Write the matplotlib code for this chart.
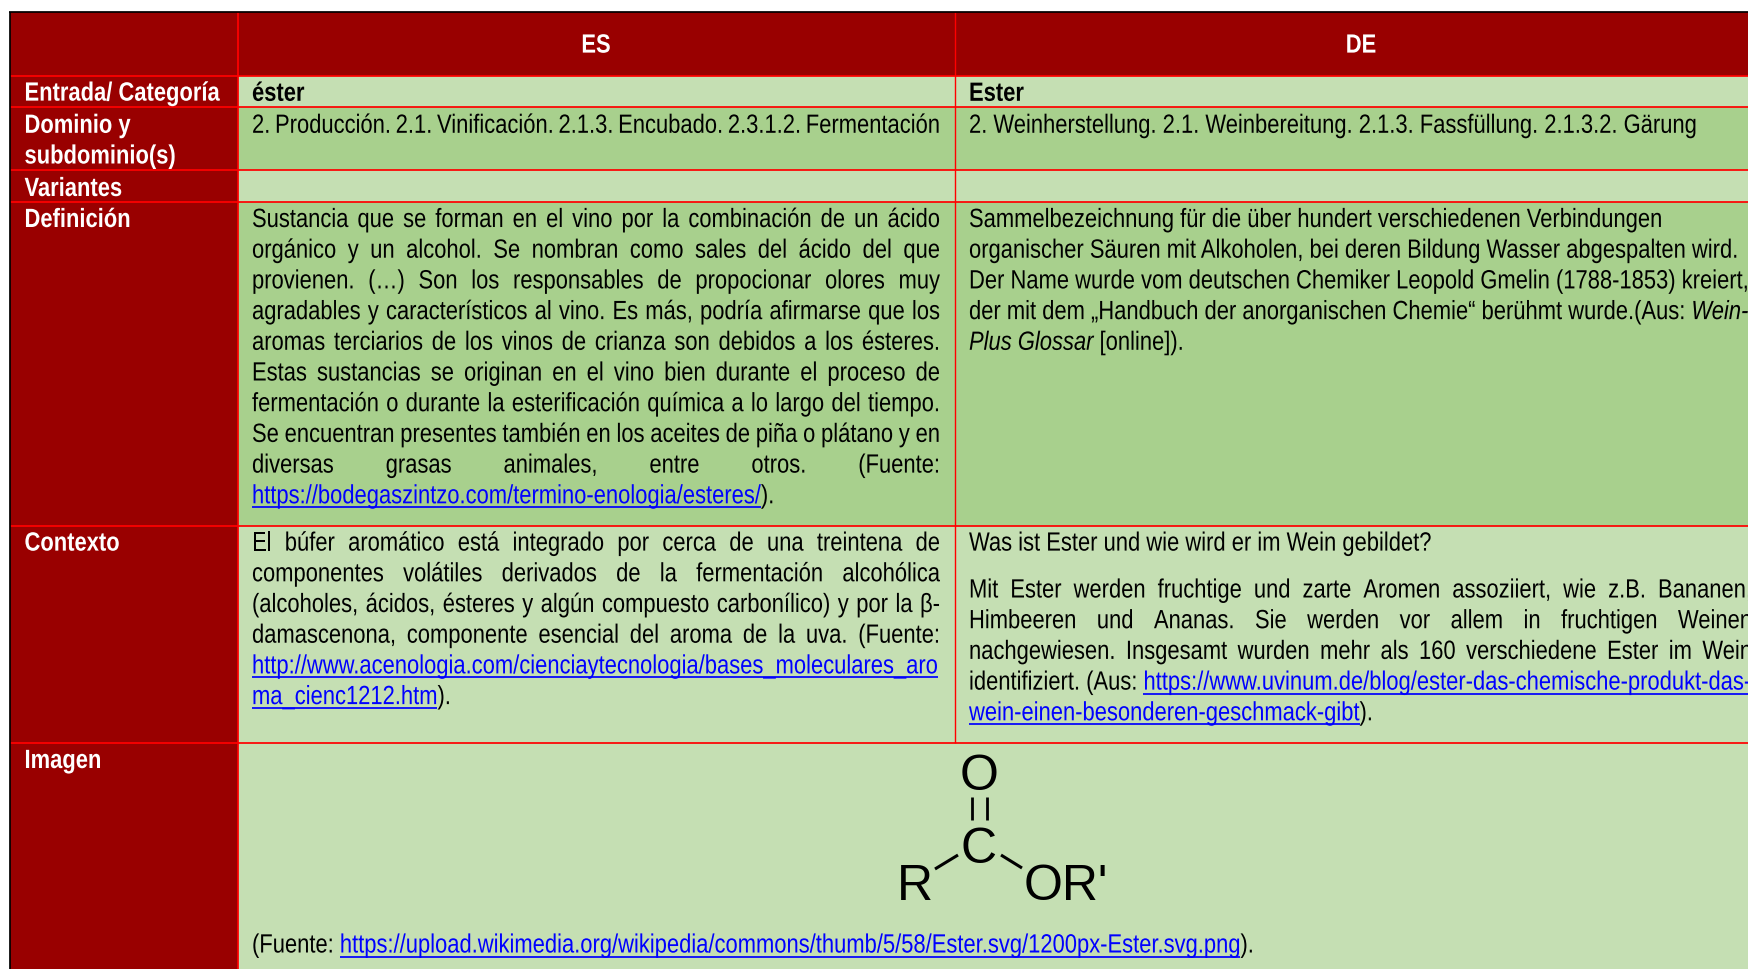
import matplotlib
matplotlib.use("Agg")
import matplotlib.pyplot as plt
from matplotlib.font_manager import FontProperties
from matplotlib.patheffects import AbstractPathEffect
from matplotlib.text import Text
from matplotlib.textpath import text_to_path
from matplotlib.transforms import Affine2D, Bbox

# ===== colours =====
dark_red = "#990000"
line_red = "#ff0000"
light_green = "#c5dfb3"
mid_green = "#a8d08d"
link_blue = "#0000ff"

# ===== table contents =====
col_heads = ["ES", "DE"]
row_names = [["Entrada/ Categoría"], ["Dominio y", "subdominio(s)"], ["Variantes"], ["Definición"], ["Contexto"], ["Imagen"]]

# run styles: n normal, b bold, i italic, u link
es_entry = [("éster", "b")]
de_entry = [("Ester", "b")]
es_domain = "2. Producción. 2.1. Vinificación. 2.1.3. Encubado. 2.3.1.2. Fermentación"
de_domain = [("2. Weinherstellung. 2.1. Weinbereitung. 2.1.3. Fassfüllung. 2.1.3.2. Gärung", "n")]

es_def = [
    "Sustancia que se forman en el vino por la combinación de un ácido",
    "orgánico y un alcohol. Se nombran como sales del ácido del que",
    "provienen. (…) Son los responsables de propocionar olores muy",
    "agradables y característicos al vino. Es más, podría afirmarse que los",
    "aromas terciarios de los vinos de crianza son debidos a los ésteres.",
    "Estas sustancias se originan en el vino bien durante el proceso de",
    "fermentación o durante la esterificación química a lo largo del tiempo.",
    "Se encuentran presentes también en los aceites de piña o plátano y en",
    "diversas grasas animales, entre otros. (Fuente:",
]
es_def_last = [("https://bodegaszintzo.com/termino-enologia/esteres/", "u"), (").", "n")]

de_def = [
    "Sammelbezeichnung für die über hundert verschiedenen Verbindungen",
    "organischer Säuren mit Alkoholen, bei deren Bildung Wasser abgespalten wird.",
    "Der Name wurde vom deutschen Chemiker Leopold Gmelin (1788-1853) kreiert,",
]
de_def_4 = [("der mit dem „Handbuch der anorganischen Chemie“ berühmt wurde.(Aus: ", "n"), ("Wein-", "i")]
de_def_5 = [("Plus Glossar", "i"), (" [online]).", "n")]

es_ctx = [
    "El búfer aromático está integrado por cerca de una treintena de",
    "componentes volátiles derivados de la fermentación alcohólica",
    "(alcoholes, ácidos, ésteres y algún compuesto carbonílico) y por la β-",
    "damascenona, componente esencial del aroma de la uva. (Fuente:",
]
es_ctx_5 = [("http://www.acenologia.com/cienciaytecnologia/bases_moleculares_aro", "u")]
es_ctx_6 = [("ma_cienc1212.htm", "u"), (").", "n")]

de_ctx_1 = [("Was ist Ester und wie wird er im Wein gebildet?", "n")]
de_ctx = [
    "Mit Ester werden fruchtige und zarte Aromen assoziiert, wie z.B. Bananen,",
    "Himbeeren und Ananas. Sie werden vor allem in fruchtigen Weinen",
    "nachgewiesen. Insgesamt wurden mehr als 160 verschiedene Ester im Wein",
]
de_ctx_5 = [("identifiziert. (Aus: ", "n"), ("https://www.uvinum.de/blog/ester-das-chemische-produkt-das-", "u")]
de_ctx_6 = [("wein-einen-besonderen-geschmack-gibt", "u"), (").", "n")]

img_source = [("(Fuente: ", "n"), ("https://upload.wikimedia.org/wikipedia/commons/thumb/5/58/Ester.svg/1200px-Ester.svg.png", "u"), (").", "n")]

# ===== layout in pixels of the reference =====
W, H = 1749, 969
x_left, x_c1, x_c2 = 10.2, 238, 954.6
row_y = [11.9, 76, 106.8, 169.7, 201.7, 525.7, 742.7, 969]
es_l, es_r = 252, 940
de_l, de_r = 969, 1752
step = 30.7
fs = 19.0
squeeze = 0.832  # no Arial Narrow here, so Liberation Sans gets pressed sideways

fig = plt.figure(figsize=(W / 100, H / 100), dpi=100)
ax = fig.add_axes([0, 0, 1, 1])
ax.set_xlim(0, W)
ax.set_ylim(H, 0)
ax.axis("off")


class Squeeze(AbstractPathEffect):
    def draw_path(self, renderer, gc, tpath, affine, rgbFace=None):
        renderer.draw_path(gc, tpath, Affine2D().scale(squeeze, 1) + affine, rgbFace)


class NarrowText(Text):
    # extent has to follow the squeezed glyphs
    def get_window_extent(self, renderer=None, dpi=None):
        bb = super().get_window_extent(renderer, dpi)
        return Bbox.from_extents(bb.x0, bb.y0, bb.x0 + bb.width * squeeze, bb.y1)


def rect(x0, y0, x1, y1, color):
    ax.fill([x0, x1, x1, x0], [y0, y0, y1, y1], color=color, lw=0, zorder=1)


def style_font(st):
    return FontProperties(family="Liberation Sans", weight="bold" if st == "b" else "normal",
                          style="italic" if st == "i" else "normal", size=fs)


def text_w(s, st):
    prop = style_font(st)
    w1 = text_to_path.get_text_width_height_descent(s + "|", prop, False)[0]
    w0 = text_to_path.get_text_width_height_descent("|", prop, False)[0]
    return (w1 - w0) * fig.dpi / 72 * squeeze


def draw_run(x, y, s, st, color="black"):
    w = text_w(s, st)
    t = NarrowText(x, y, s, fontproperties=style_font(st), color=link_blue if st == "u" else color,
                   va="baseline", ha="left", zorder=3)
    t.set_path_effects([Squeeze()])
    ax.add_artist(t)
    if st == "u":
        ax.plot([x, x + w], [y + 4, y + 4], color=link_blue, lw=1.25, zorder=3, solid_capstyle="butt")
    return x + w


def draw_plain(x, y, runs, color="black"):
    for s, st in runs:
        x = draw_run(x, y, s, st, color)


def draw_just(x0, x1, y, s):
    words = s.split(" ")
    total = sum(text_w(w, "n") for w in words)
    gap = (x1 - x0 - total) / (len(words) - 1)
    x = x0
    for w in words:
        x = draw_run(x, y, w, "n") + gap


# ===== fills =====
rect(x_left, row_y[0], W, row_y[1], dark_red)
rect(x_left, row_y[0], x_c1, H, dark_red)
fills = [light_green, mid_green, light_green, mid_green, light_green, light_green]
for i, c in enumerate(fills):
    rect(x_c1, row_y[i + 1], W, row_y[i + 2], c)

# ===== grid lines =====
for y in row_y[1:-1]:
    ax.plot([x_left, W], [y, y], color=line_red, lw=1.25, zorder=2, solid_capstyle="butt")
ax.plot([x_c1, x_c1], [row_y[0], H], color=line_red, lw=1.25, zorder=2, solid_capstyle="butt")
ax.plot([x_c2, x_c2], [row_y[0], row_y[6]], color=line_red, lw=1.0, zorder=2, solid_capstyle="butt")
ax.plot([x_left - 1, W], [row_y[0], row_y[0]], color="black", lw=1.25, zorder=2, solid_capstyle="butt")
ax.plot([x_left, x_left], [row_y[0], H], color="black", lw=1.25, zorder=2, solid_capstyle="butt")

# ===== headers =====
for name, cx in zip(col_heads, [596, 1361]):
    draw_run(cx - text_w(name, "b") / 2, 52.6, name, "b", "white")

row_base = [100.6, 132.8, 196, 227, 550.6, 768]
for names, y in zip(row_names, row_base):
    for k, n in enumerate(names):
        draw_run(24.5, y + k * step, n, "b", "white")

# ===== body text =====
draw_plain(es_l, 100.8, es_entry)
draw_plain(de_l, 100.8, de_entry)
draw_just(es_l, es_r, 132.8, es_domain)
draw_plain(de_l, 132.8, de_domain)

for i, s in enumerate(es_def):
    draw_just(es_l, es_r, 227 + i * step, s)
draw_plain(es_l, 227 + 9 * step, es_def_last)

for i, s in enumerate(de_def):
    draw_plain(de_l, 227 + i * step, [(s, "n")])
draw_plain(de_l, 227 + 3 * step, de_def_4)
draw_plain(de_l, 227 + 4 * step, de_def_5)

for i, s in enumerate(es_ctx):
    draw_just(es_l, es_r, 550.6 + i * step, s)
draw_plain(es_l, 550.6 + 4 * step, es_ctx_5)
draw_plain(es_l, 550.6 + 5 * step, es_ctx_6)

draw_plain(de_l, 550.6, de_ctx_1)
for i, s in enumerate(de_ctx):
    draw_just(de_l, de_r, 597.5 + i * step, s)
draw_plain(de_l, 597.5 + 3 * step, de_ctx_5)
draw_plain(de_l, 597.5 + 4 * step, de_ctx_6)

draw_plain(es_l, 952.5, img_source)

# ===== ester formula =====
for s, cx, base in [("O", 979, 790), ("C", 979, 863), ("R", 914.5, 900), ("OR'", 1066, 900)]:
    ax.text(cx, base, s, family="Liberation Sans", fontsize=36, ha="center", va="baseline", color="black", zorder=3)
ax.plot([972, 972], [797, 820], color="black", lw=2.0, zorder=3, solid_capstyle="butt")
ax.plot([987, 987], [797, 820], color="black", lw=2.0, zorder=3, solid_capstyle="butt")
ax.plot([935, 958], [869, 855], color="black", lw=2.2, zorder=3, solid_capstyle="butt")
ax.plot([1001, 1022], [855, 868], color="black", lw=2.2, zorder=3, solid_capstyle="butt")

fig.savefig("out.png", dpi=100)
